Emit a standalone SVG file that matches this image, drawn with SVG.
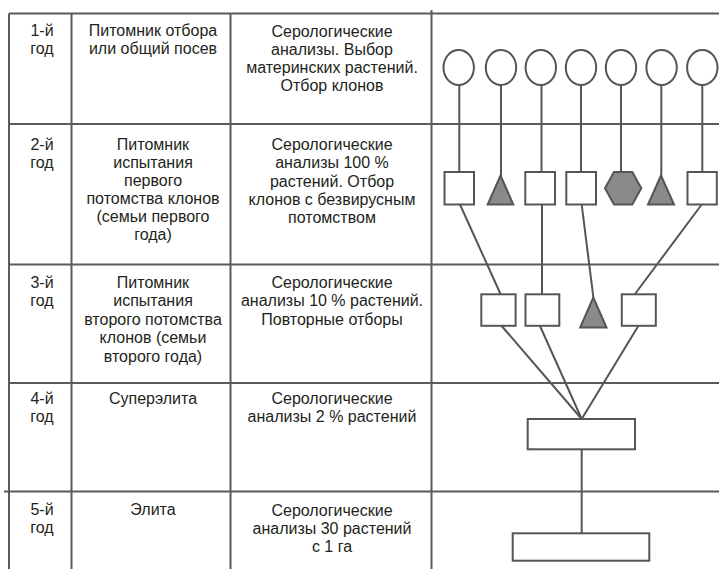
<svg xmlns="http://www.w3.org/2000/svg" width="719" height="569" viewBox="0 0 719 569">
<style>
.grid{stroke:#5b5b5b;stroke-width:2;fill:none}
.t{font-family:"Liberation Sans",Arial,sans-serif;font-size:16px;fill:#231f20;text-anchor:middle}
.s{stroke:#555;stroke-width:2;fill:#fff}
.g{stroke:#555;stroke-width:2;fill:#8a8a8a}
.c{stroke:#555;stroke-width:2;fill:none}
</style>
<rect width="719" height="569" fill="#fff"/>
<g id="table" class="grid">
<line x1="9" y1="13.5" x2="719" y2="13.5"/>
<line x1="9" y1="124" x2="719" y2="124"/>
<line x1="9" y1="264.5" x2="719" y2="264.5"/>
<line x1="9" y1="383" x2="719" y2="383"/>
<line x1="4" y1="491.5" x2="719" y2="491.5"/>
<line x1="9" y1="13.5" x2="9" y2="569"/>
<line x1="71.5" y1="13.5" x2="71.5" y2="569"/>
<line x1="230.5" y1="13.5" x2="230.5" y2="569"/>
<line x1="431.5" y1="10" x2="431.5" y2="569"/>
</g>
<g id="row1-text" class="t">
<text x="42" y="36">1-й</text><text x="42" y="53.5">год</text>
<text x="153" y="36">Питомник отбора</text><text x="153" y="53.5">или общий посев</text>
<text x="332" y="36.5">Серологические</text><text x="332" y="54.5">анализы. Выбор</text><text x="332" y="72.5">материнских растений.</text><text x="332" y="90.5">Отбор клонов</text>
</g>
<g id="row2-text" class="t">
<text x="42" y="150">2-й</text><text x="42" y="168">год</text>
<text x="153" y="150">Питомник</text><text x="153" y="168">испытания</text><text x="153" y="186">первого</text><text x="153" y="204">потомства клонов</text><text x="153" y="222">(семьи первого</text><text x="153" y="240">года)</text>
<text x="332" y="150">Серологические</text><text x="332" y="168">анализы 100 %</text><text x="332" y="186.5">растений. Отбор</text><text x="332" y="205">клонов с безвирусным</text><text x="332" y="223">потомством</text>
</g>
<g id="row3-text" class="t">
<text x="42" y="288">3-й</text><text x="42" y="305.5">год</text>
<text x="153" y="288">Питомник</text><text x="153" y="306">испытания</text><text x="153" y="324.5">второго потомства</text><text x="153" y="343">клонов (семьи</text><text x="153" y="361.5">второго года)</text>
<text x="332" y="287.5">Серологические</text><text x="332" y="306">анализы 10 % растений.</text><text x="332" y="324.5">Повторные отборы</text>
</g>
<g id="row4-text" class="t">
<text x="42" y="403.5">4-й</text><text x="42" y="421.5">год</text>
<text x="153" y="403.5">Суперэлита</text>
<text x="332" y="403.5">Серологические</text><text x="332" y="421.5">анализы 2 % растений</text>
</g>
<g id="row5-text" class="t">
<text x="42" y="515">5-й</text><text x="42" y="533">год</text>
<text x="153" y="515">Элита</text>
<text x="332" y="515.5">Серологические</text><text x="332" y="533.5">анализы 30 растений</text><text x="332" y="551.5">с 1 га</text>
</g>
<g id="connectors" class="c">
<line x1="459.3" y1="85" x2="459.3" y2="172"/>
<line x1="501" y1="85" x2="501" y2="176"/>
<line x1="541.5" y1="85" x2="541.5" y2="172"/>
<line x1="581" y1="85" x2="581" y2="172"/>
<line x1="621" y1="85" x2="621" y2="172"/>
<line x1="661.3" y1="85" x2="661.3" y2="176"/>
<line x1="702.3" y1="85" x2="702.3" y2="172"/>
<line x1="460" y1="204.5" x2="500.5" y2="294"/>
<line x1="542" y1="204.5" x2="542" y2="294"/>
<line x1="581.7" y1="204.5" x2="593.3" y2="297"/>
<line x1="701.7" y1="204.5" x2="635" y2="294"/>
<line x1="501.7" y1="326" x2="581.7" y2="419"/>
<line x1="540" y1="326" x2="581.7" y2="419"/>
<line x1="638.3" y1="326" x2="581.7" y2="419"/>
<line x1="581.7" y1="449.3" x2="581.7" y2="533.3"/>
</g>
<g id="c1"><ellipse class="s" cx="458.7" cy="67.5" rx="15.2" ry="17.5"/></g>
<g id="c2"><ellipse class="s" cx="501" cy="67.5" rx="15.2" ry="17.5"/></g>
<g id="c3"><ellipse class="s" cx="540.8" cy="67.5" rx="15.2" ry="17.5"/></g>
<g id="c4"><ellipse class="s" cx="581" cy="67.5" rx="15.2" ry="17.5"/></g>
<g id="c5"><ellipse class="s" cx="621" cy="67.5" rx="15.2" ry="17.5"/></g>
<g id="c6"><ellipse class="s" cx="661.6" cy="67.5" rx="15.2" ry="17.5"/></g>
<g id="c7"><ellipse class="s" cx="702.3" cy="67.5" rx="15.2" ry="17.5"/></g>
<g id="r2a"><rect class="s" x="444.5" y="172" width="29.5" height="32.5"/></g>
<g id="r2b"><polygon class="g" points="500.5,175.5 513.3,204.5 487.7,204.5"/></g>
<g id="r2c"><rect class="s" x="525.3" y="172" width="29.7" height="32.5"/></g>
<g id="r2d"><rect class="s" x="566.3" y="172" width="29.7" height="32.5"/></g>
<g id="r2e"><polygon class="g" points="605,188.3 614,172 632.3,172 641.3,188.3 632.3,204.5 614,204.5"/></g>
<g id="r2f"><polygon class="g" points="661,175.5 674,204.5 648,204.5"/></g>
<g id="r2g"><rect class="s" x="687.5" y="172" width="29.3" height="32.5"/></g>
<g id="r3a"><rect class="s" x="481.3" y="294.3" width="34.3" height="31.5"/></g>
<g id="r3b"><rect class="s" x="525.5" y="294.3" width="33.8" height="31.5"/></g>
<g id="r3c"><polygon class="g" points="593.3,297.5 606.5,327.5 580.2,327.5"/></g>
<g id="r3d"><rect class="s" x="621.8" y="294.3" width="34" height="31.5"/></g>
<g id="r4"><rect class="s" x="527.7" y="419" width="107.3" height="30.3"/></g>
<g id="r5"><rect class="s" x="512.7" y="533.3" width="136.6" height="27.4"/></g>
</svg>
